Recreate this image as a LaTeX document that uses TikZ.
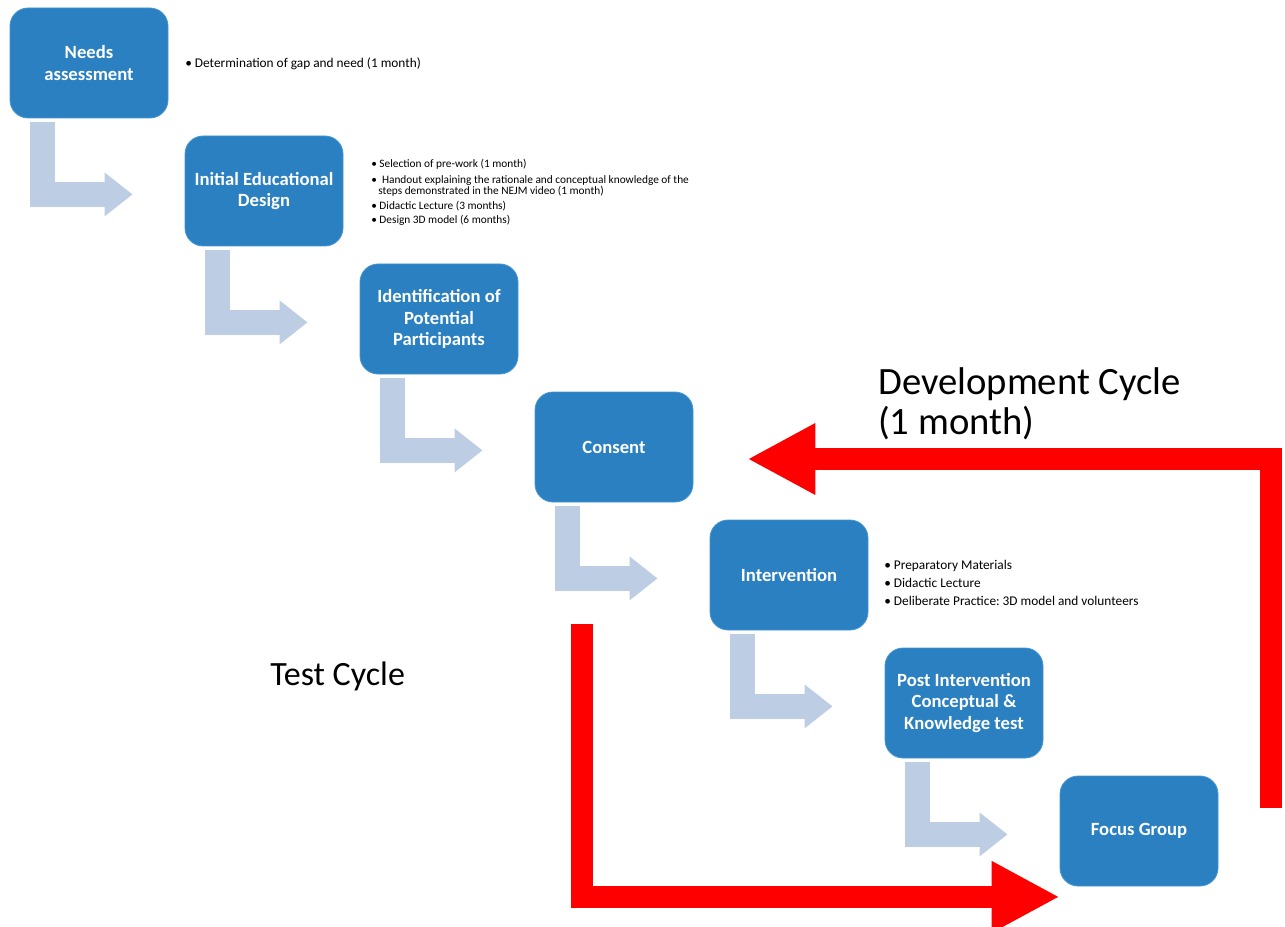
\documentclass[tikz,border=0pt]{standalone}
\usepackage{fontspec}
\setmainfont{Carlito}
\frenchspacing
\usetikzlibrary{arrows.meta,calc}
\definecolor{boxblue}{RGB}{42,128,192}
\definecolor{boxedge}{RGB}{70,150,210}
\definecolor{lightarr}{RGB}{189,205,228}
\definecolor{cyclered}{RGB}{255,0,0}
\begin{document}
\begin{tikzpicture}[x=0.75pt,y=-0.75pt,
  stepbox/.style={fill=boxblue, draw=boxedge, line width=0.6pt, rounded corners=13.5pt,
    minimum width=118.5pt, minimum height=82.5pt, text=white, inner sep=2pt,
    font=\fontsize{14}{16}\selectfont\bfseries, align=center},
  flowarrow/.style={draw=lightarr, line width=18.75pt, line join=miter, line cap=butt,
    -{Triangle[length=21pt,width=31.5pt]}},
  redarrow/.style={draw=cyclered, line width=17pt, line join=miter, line cap=butt,
    -{Triangle[length=51pt,width=50pt]}},
  bulletsmall/.style={anchor=base west, inner sep=0pt, font=\fontsize{8.5}{10}\selectfont},
  bulletbig/.style={anchor=base west, inner sep=0pt, font=\fontsize{10}{12}\selectfont},
  cyclelabel/.style={anchor=base west, inner sep=0pt}
]
\useasboundingbox (0,0) rectangle (1285,927);
\clip (0,0) rectangle (1285,927);

% boxes
\node[stepbox] (n1) at (89,63)   {Needs\\assessment};
\node[stepbox] (n2) at (264,191) {Initial Educational\\Design};
\node[stepbox] (n3) at (439,319) {Identification of\\Potential\\Participants};
\node[stepbox] (n4) at (614,447) {Consent};
\node[stepbox] (n5) at (789,575) {Intervention};
\node[stepbox] (n6) at (964,703) {Post Intervention\\Conceptual \&\\Knowledge test};
\node[stepbox] (n7) at (1139,831) {Focus Group};

% light bent arrows
\foreach \i in {1,...,6}{
  \coordinate (s\i) at ($(n\i.south west)+(33,4)$);
  \coordinate (e\i) at ($(n\i.south west)+(123,76)$);
  \draw[flowarrow] (s\i) |- (e\i);
}

% red cycle arrows
\coordinate (t0) at (582,624);
\coordinate (t1) at ($(n7.south west)+(0,10.5)$);
\draw[redarrow] (t0) |- (t1);
\coordinate (d0) at (1271,808);
\coordinate (d1) at ($(n4.east)+(54,12)$);
\draw[redarrow] (d0) |- (d1);

% bullet texts
\node[bulletbig] (b1) at (185,68) {\textbullet\ Determination of gap and need (1 month)};

\node[bulletsmall] (b2a) at (371,168) {\textbullet\ Selection of pre-work (1 month)};
\node[bulletsmall] (b2b) at (371,184) {\textbullet\ \ Handout explaining the rationale and conceptual knowledge of the};
\node[bulletsmall] (b2c) at (378,194.5) {steps demonstrated in the NEJM video (1 month)};
\node[bulletsmall] (b2d) at (371,210) {\textbullet\ Didactic Lecture (3 months)};
\node[bulletsmall] (b2e) at (371,224) {\textbullet\ Design 3D model (6 months)};

\node[bulletbig] (b5a) at (884,569) {\textbullet\ Preparatory Materials};
\node[bulletbig] (b5b) at (884,587) {\textbullet\ Didactic Lecture};
\node[bulletbig] (b5c) at (884,605) {\textbullet\ Deliberate Practice: 3D model and volunteers};

% cycle labels
\node[cyclelabel, font=\fontsize{29}{32}\selectfont] (dev1) at (878,394) {Development Cycle};
\node[cyclelabel, font=\fontsize{29}{32}\selectfont] (dev2) at (878,434) {(1 month)};
\node[cyclelabel, font=\fontsize{25.5}{30}\selectfont] (test) at (270,685) {Test Cycle};
\end{tikzpicture}
\end{document}
